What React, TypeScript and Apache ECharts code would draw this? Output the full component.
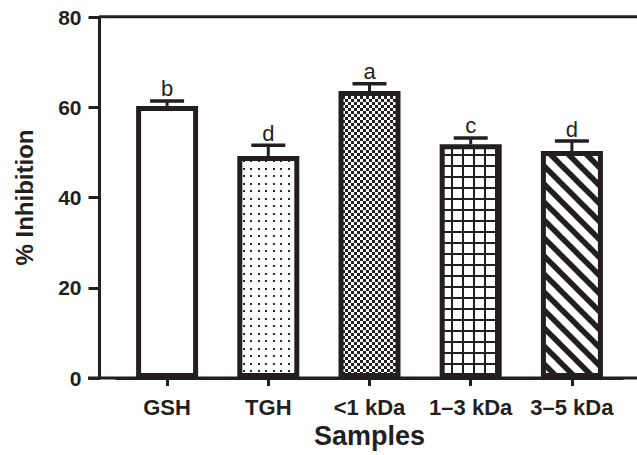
import React, { useEffect, useRef } from "react";
import * as echarts from "echarts";

const categories = ["GSH", "TGH", "<1 kDa", "1–3 kDa", "3–5 kDa"];
const meanValues = [60.3, 49.2, 63.6, 51.8, 50.3];
const errorValues = [1.1, 2.4, 1.6, 1.4, 2.2];
const groupLetters = ["b", "d", "a", "c", "d"];
const yTicks = { min: 0, max: 80, interval: 20 };

const INK = "#231f20";
const FONT = "'Liberation Sans', Arial, Helvetica, sans-serif";

function makeCanvas(w: number, h: number, draw: (ctx: CanvasRenderingContext2D) => void) {
  const c = document.createElement("canvas");
  c.width = w;
  c.height = h;
  const ctx = c.getContext("2d")!;
  ctx.fillStyle = "#ffffff";
  ctx.fillRect(0, 0, w, h);
  draw(ctx);
  return { image: c, repeat: "repeat", imageWidth: w, imageHeight: h } as any;
}

function buildPatterns() {
  const plain = "#ffffff";
  const dots = makeCanvas(15, 15, (ctx) => {
    ctx.fillStyle = "#2a2a2a";
    [[3, 3], [10, 3], [3, 10], [10, 10]].forEach(([x, y]) => {
      ctx.fillRect(x, y, 2, 2);
    });
  });
  const checker = makeCanvas(6, 6, (ctx) => {
    ctx.fillStyle = INK;
    ctx.fillRect(0, 0, 3, 3);
    ctx.fillRect(3, 3, 3, 3);
  });
  const grid = makeCanvas(11, 11, (ctx) => {
    ctx.fillStyle = INK;
    ctx.fillRect(0, 0, 2, 11);
    ctx.fillRect(0, 0, 11, 2);
  });
  const hatch = makeCanvas(18, 18, (ctx) => {
    ctx.strokeStyle = INK;
    ctx.lineWidth = 5.5;
    [-18, 0, 18].forEach((c) => {
      ctx.beginPath();
      ctx.moveTo(-4, -4 + c);
      ctx.lineTo(22, 22 + c);
      ctx.stroke();
    });
  });
  return [plain, dots, checker, grid, hatch];
}

export default function App() {
  const ref = useRef<HTMLDivElement>(null);

  useEffect(() => {
    if (!ref.current) return;
    const chart = echarts.init(ref.current, null, { renderer: "svg" });
    const patterns = buildPatterns();

    const option: any = {
      animation: false,
      backgroundColor: "#ffffff",
      grid: { left: 116.5, right: 14.5, top: 17, bottom: 77 },
      xAxis: {
        type: "category",
        data: categories,
        name: "Samples",
        nameLocation: "middle",
        nameGap: 43,
        nameTextStyle: { fontFamily: FONT, fontWeight: "bold", fontSize: 27, color: INK },
        axisLine: { show: true, lineStyle: { color: INK, width: 3 } },
        axisTick: { show: true, alignWithLabel: true, length: 8, lineStyle: { color: INK, width: 3 } },
        axisLabel: {
          interval: 0,
          hideOverlap: false,
          margin: 18,
          fontFamily: FONT,
          fontWeight: "bold",
          fontSize: 22,
          color: INK,
        },
      },
      yAxis: {
        type: "value",
        min: yTicks.min,
        max: yTicks.max,
        interval: yTicks.interval,
        offset: 17,
        name: "% Inhibition",
        nameLocation: "middle",
        nameGap: 63,
        nameTextStyle: { fontFamily: FONT, fontWeight: "bold", fontSize: 24, color: INK },
        axisLine: { show: true, lineStyle: { color: INK, width: 3 } },
        axisTick: { show: true, length: 11, lineStyle: { color: INK, width: 3 } },
        axisLabel: { margin: 18, fontFamily: FONT, fontWeight: "bold", fontSize: 21, color: INK },
        splitLine: { show: false },
      },
      graphic: [
        { type: "line", shape: { x1: 99.5, y1: 16.7, x2: 637, y2: 16.7 }, style: { stroke: INK, lineWidth: 3 }, z: 10 },
        { type: "line", shape: { x1: 88, y1: 378, x2: 637, y2: 378 }, style: { stroke: INK, lineWidth: 3 }, z: 10 },
      ],
      series: [
        {
          type: "bar",
          barWidth: 62,
          data: meanValues.map((v, i) => ({
            value: v,
            itemStyle: { color: patterns[i], borderColor: INK, borderWidth: 5 },
          })),
          z: 2,
        },
        {
          type: "custom",
          z: 3,
          data: meanValues.map((v, i) => [i, v, errorValues[i]]),
          encode: { x: 0, y: 1 },
          renderItem: (params: any, api: any) => {
            const x = api.value(0);
            const m = api.value(1);
            const e = api.value(2);
            const p0 = api.coord([x, m]);
            const p1 = api.coord([x, m + e]);
            return {
              type: "group",
              children: [
                { type: "line", shape: { x1: p0[0], y1: p0[1], x2: p1[0], y2: p1[1] }, style: { stroke: INK, lineWidth: 3 } },
                { type: "line", shape: { x1: p1[0] - 17, y1: p1[1], x2: p1[0] + 17, y2: p1[1] }, style: { stroke: INK, lineWidth: 3.5 } },
                {
                  type: "text",
                  x: p1[0],
                  y: p1[1] - 1,
                  style: {
                    text: groupLetters[params.dataIndex],
                    textAlign: "center",
                    textVerticalAlign: "bottom",
                    font: `normal 22px ${FONT}`,
                    fill: INK,
                  },
                },
              ],
            };
          },
        },
      ],
    };

    chart.setOption(option);
    return () => chart.dispose();
  }, []);

  return <div ref={ref} style={{ position: "fixed", left: 0, top: 0, width: 637, height: 455 }} />;
}
